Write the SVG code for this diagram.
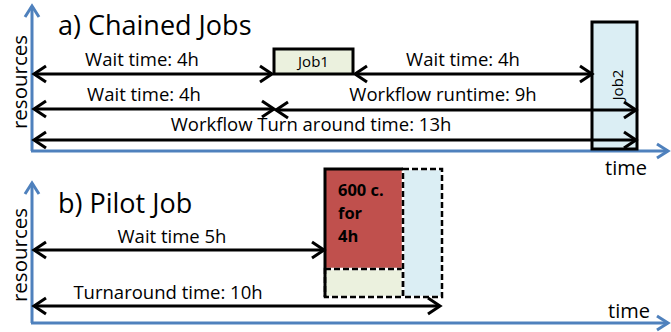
<svg xmlns="http://www.w3.org/2000/svg" width="671" height="332" viewBox="0 0 671 332">
<style>
text{font-family:"Open Sans","Liberation Sans",sans-serif;fill:#000}
.lbl{font-size:18.5px;text-anchor:middle}
.title{font-size:27px}
.ax{fill:none;stroke:#4f81bd;stroke-width:3}
.arr{fill:none;stroke:#000;stroke-width:3;marker-start:url(#ah);marker-end:url(#ah)}
.job{stroke:#000;stroke-width:3}
.dash{fill:none;stroke:#000;stroke-width:2.5;stroke-dasharray:6 3}
.under{fill:none;stroke:#fff;stroke-width:2.5}
</style>
<defs>
<marker id="ah" markerUnits="userSpaceOnUse" markerWidth="16" markerHeight="20" refX="13" refY="9" orient="auto-start-reverse" overflow="visible">
<path d="M1,1 L13,9 L1,17" fill="none" stroke="#000" stroke-width="3" stroke-linejoin="miter"/>
</marker>
<marker id="bh" markerUnits="userSpaceOnUse" markerWidth="16" markerHeight="20" refX="12" refY="8" orient="auto" overflow="visible">
<path d="M1,1 L12,8 L1,15" fill="none" stroke="#4f81bd" stroke-width="3"/>
</marker>
</defs>

<g id="axes">
<path class="ax" d="M32,151 V6" marker-end="url(#bh)"/>
<path class="ax" d="M31,151 H668" marker-end="url(#bh)"/>
<path class="ax" d="M32,323 V183" marker-end="url(#bh)"/>
<path class="ax" d="M31,323 H668" marker-end="url(#bh)"/>
</g>

<g id="titles">
<text class="title" x="58" y="35">a) Chained Jobs</text>
<text class="title" x="58" y="213">b) Pilot Job</text>
<text x="0" y="0" font-size="20.5" text-anchor="middle" transform="translate(27,82) rotate(-90)">resources</text>
<text x="0" y="0" font-size="20.5" text-anchor="middle" transform="translate(27,255) rotate(-90)">resources</text>
<text x="605" y="175" font-size="20">time</text>
<text x="608" y="318" font-size="20">time</text>
</g>

<g id="job1">
<rect class="job" x="274" y="49" width="79" height="25" fill="#ebf1de"/>
<text x="313.5" y="67" font-size="15" text-anchor="middle">Job1</text>
</g>

<g id="job2">
<rect class="job" x="592" y="22" width="45" height="127" fill="#dbeef4"/>
<text x="0" y="0" font-size="15" text-anchor="middle" transform="translate(623,85) rotate(-90)">Job2</text>
</g>

<g id="pilot">
<rect x="325" y="169" width="78" height="100" fill="#c0504d"/>
<rect x="325" y="269" width="78" height="28" fill="#ebf1de"/>
<rect x="403" y="169" width="39" height="128" fill="#dbeef4"/>
<rect class="under" x="325" y="269" width="78" height="28"/>
<rect class="dash" x="325" y="269" width="78" height="28"/>
<rect class="under" x="403" y="169" width="39" height="128"/>
<rect class="dash" x="403" y="169" width="39" height="128"/>
<path d="M325,297 V169 H403" fill="none" stroke="#000" stroke-width="3"/>
<text x="338" y="196" font-size="16.5" font-weight="bold">600 c.</text>
<text x="338" y="219" font-size="16.5" font-weight="bold">for</text>
<text x="338" y="242" font-size="16.5" font-weight="bold">4h</text>
</g>

<g id="connectors">
<path class="arr" d="M34,74 H272"/>
<path class="arr" d="M355,74 H592"/>
<path class="arr" d="M34,109 H274"/>
<path class="arr" d="M276,110 H636"/>
<path class="arr" d="M34,140 H636"/>
<path class="arr" d="M34,250 H324"/>
<path class="arr" d="M34,306 H440"/>
</g>

<g id="labels">
<text class="lbl" x="142" y="66">Wait time: 4h</text>
<text class="lbl" x="463" y="66">Wait time: 4h</text>
<text class="lbl" x="144" y="101">Wait time: 4h</text>
<text class="lbl" x="443" y="101">Workflow runtime: 9h</text>
<text class="lbl" x="311" y="131">Workflow Turn around time: 13h</text>
<text class="lbl" x="172" y="243">Wait time 5h</text>
<text class="lbl" x="168" y="299">Turnaround time: 10h</text>
</g>
</svg>
